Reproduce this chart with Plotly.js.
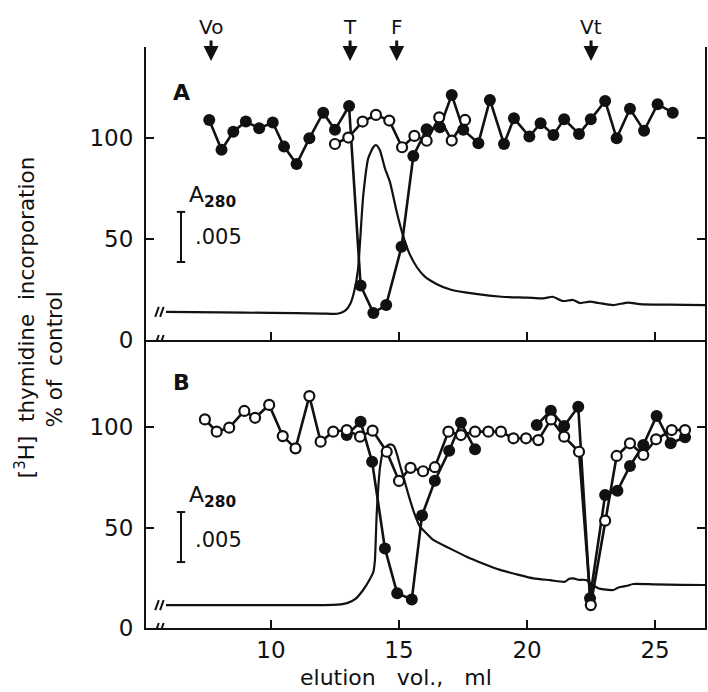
<!DOCTYPE html>
<html><head><meta charset="utf-8">
<script src="https://cdn.plot.ly/plotly-3.0.1.min.js"></script>
<style>body{margin:0;background:#fff}#g{width:708px;height:692px}</style>
</head><body><div id="g"></div>
<script>
// ---------- data ----------
// Panel A
const aFilledX = [7.59,8.07,8.53,9.02,9.54,10.07,10.51,11.0,11.5,12.04,12.5,13.05,13.5,14.0,14.5,15.1,15.56,16.08,16.6,17.06,17.51,18.1,18.55,19.1,19.49,20.09,20.53,21.03,21.45,22.03,22.49,23.05,23.5,24.02,24.57,25.1,25.69];
const aFilledY = [108.9,94.1,103.1,108.1,104.8,107.6,95.7,87.1,99.8,112.5,104.0,115.8,27,13.4,17.3,46.2,91.1,104.3,105.3,121.3,104,97.4,118.8,97,109.7,100.7,107.3,101.5,109.2,102,109.2,118.3,99.8,114.4,103.6,116.7,112.5];
const aOpenX = [12.5,13.02,13.58,14.1,14.62,15.12,15.6,16.08,16.57,17.06,17.58];
const aOpenY = [97,100.2,108.1,111.4,108.6,95.4,101,98.6,110.2,98.7,108.9];
const aA280X = [5.9,8,10,12,12.6,12.9,13.1,13.25,13.4,13.6,13.8,14.0,14.1,14.25,14.45,14.65,14.9,15.15,15.4,15.7,16.0,16.5,17.0,18.0,19.0,20.0,20.64,21.0,21.4,21.8,22.07,22.46,22.8,23.36,23.95,24.4,25.5,26.95];
const aA280Y = [13.9,13.7,13.4,13.1,13.0,14.5,18,24,35,71,90,95.5,96.5,94,85,78,64,52,43,36,31.5,27.5,25,22.8,21.4,21,20.6,21.4,19.3,19.8,18.3,19,18.3,17.3,18.5,17.8,17.5,17.3];
// Panel B
const bFilledX = [12.96,13.5,13.95,14.45,14.93,15.5,15.9,16.4,16.96,17.42,17.97,null,20.38,20.93,21.45,22.0,22.46,23.05,23.53,24.02,24.54,25.06,25.61,26.17];
const bFilledY = [96,102.6,82.7,39.6,17.3,14.2,56,73.3,88.2,102.1,88.9,null,101,108.1,100.5,110.1,14.8,66.2,68.3,80.6,91,105.5,91.9,94.9];
const bOpenX = [7.42,7.88,8.37,8.96,9.38,9.93,10.46,10.96,11.5,11.94,12.43,12.96,13.48,13.97,14.52,15.0,15.45,15.94,16.4,16.93,17.42,17.97,18.49,18.98,19.47,19.96,20.44,20.94,21.45,22.03,22.49,23.05,23.5,24.02,24.54,25.04,25.65,26.17];
const bOpenY = [103.8,97.7,99.7,108,104.6,111,95.5,89.4,115.4,92.7,97.7,98.5,95.2,98.2,87.7,73.2,79.7,78,80,97.7,96,97.7,97.7,97.7,94.4,94.4,93.5,103.8,95.2,87.7,11.4,53.4,85.6,91.9,86.1,93.9,98.5,98.5];
const bA280X = [5.9,8,10,12,12.6,13.0,13.3,13.6,13.85,14.0,14.06,14.13,14.26,14.39,14.52,14.65,14.8,14.91,15.04,15.17,15.4,15.6,15.82,16.0,16.34,17.0,17.64,18.3,18.95,19.6,20.25,20.9,21.48,21.65,21.8,22.0,22.3,22.55,22.78,23.0,23.37,23.55,23.7,23.9,24.15,25,26,26.95];
const bA280Y = [11.4,11.4,11.4,11.4,11.6,12.5,14.5,18.9,24,28,33.8,57,80,88.6,90.5,91.4,90.5,86.9,81,75.3,65,57,50.4,48,43.8,39.5,35.5,32,28.9,26.7,24.7,23.8,23,24.5,24.7,24,23.9,21.5,19.8,19.2,18.9,20,20.5,21,21.9,21.7,21.5,21.4];
// markers at top (elution volumes)
const markerNames = ["Vo","T","F","Vt"];
const markerX = [7.66,13.09,14.91,22.5];
// axis ticks
const xTicks = [10,15,20,25];
const yTicks = [0,50,100];
// A280 scale bar (0.005 A280 expressed in % units)
const scaleBarA = [38.6,63.4];
const scaleBarB = [32.8,57.7];
// axis-break positions (ml)
const breakX = [5.55,5.74];

// ---------- chart ----------
const ink = "#111";
const F = "DejaVu Sans";
function filled(x,y,xa,ya){return {x,y,xaxis:xa,yaxis:ya,type:"scatter",mode:"lines+markers",line:{color:ink,width:2.6},marker:{color:ink,size:12},connectgaps:false,showlegend:false,hoverinfo:"none"};}
function open(x,y,xa,ya){return {x,y,xaxis:xa,yaxis:ya,type:"scatter",mode:"lines+markers",line:{color:ink,width:2.6},marker:{color:"#fff",size:10,line:{color:ink,width:2.2}},showlegend:false,hoverinfo:"none"};}
function curve(x,y,xa,ya){return {x,y,xaxis:xa,yaxis:ya,type:"scatter",mode:"lines",line:{color:ink,width:2.2,shape:"spline",smoothing:0.6},showlegend:false,hoverinfo:"none"};}

const data = [
  curve(aA280X,aA280Y,"x2","y"),
  filled(aFilledX,aFilledY,"x2","y"),
  open(aOpenX,aOpenY,"x2","y"),
  curve(bA280X,bA280Y,"x","y2"),
  filled(bFilledX,bFilledY,"x","y2"),
  open(bOpenX,bOpenY,"x","y2")
];

const split = 0.4957;
const xr = [5.12,26.95];
const axisCommon = {showline:true,linecolor:ink,linewidth:2,ticks:"inside",ticklen:8,tickwidth:2,tickcolor:ink,showgrid:false,zeroline:false,tickfont:{family:F,size:23,color:ink}};

const shapes = [];
function brk(xa,ya,yv,ppu){
  breakX.forEach(bx=>{
    shapes.push({type:"line",xref:xa,yref:ya,x0:bx-0.07,x1:bx+0.07,y0:yv-5/ppu,y1:yv+5/ppu,line:{color:ink,width:2}});
  });
}
brk("x2","y",0,2.02); brk("x2","y",aA280Y[0],2.02);
brk("x","y2",0,2.01); brk("x","y2",bA280Y[0],2.01);
function bar(ya,r){
  const xc=0.0626, c=0.0075;
  shapes.push({type:"line",xref:"paper",yref:ya,x0:xc,x1:xc,y0:r[0],y1:r[1],line:{color:ink,width:2}});
  shapes.push({type:"line",xref:"paper",yref:ya,x0:xc-c,x1:xc+c,y0:r[0],y1:r[0],line:{color:ink,width:2}});
  shapes.push({type:"line",xref:"paper",yref:ya,x0:xc-c,x1:xc+c,y0:r[1],y1:r[1],line:{color:ink,width:2}});
}
bar("y",scaleBarA); bar("y2",scaleBarB);

const ann = [];
function txt(text,x,y,size,extra){
  ann.push(Object.assign({text,x,y,xref:"paper",yref:"paper",xanchor:"center",yanchor:"middle",showarrow:false,font:{family:F,size,color:ink}},extra||{}));
}
markerNames.forEach((n,i)=>{
  ann.push({text:n,x:markerX[i],xref:"x2",y:0.9759,yref:"paper",showarrow:true,ax:0,ay:-34,arrowhead:2,arrowsize:1,arrowwidth:3,arrowcolor:ink,standoff:0,font:{family:F,size:20,color:ink}});
});
txt("<b>A</b>",0.0644,0.9225,22);
txt("<b>B</b>",0.0644,0.4234,22);
txt("A<sub><b>280</b></sub>",0.0733,0.7435,22,{xanchor:"left"});
txt(".005",0.0841,0.673,21,{xanchor:"left"});
txt("A<sub><b>280</b></sub>",0.0733,0.227,22,{xanchor:"left"});
txt(".005",0.0841,0.1515,21,{xanchor:"left"});
txt("[<sup>3</sup>H]&nbsp;&nbsp;thymidine&nbsp;&nbsp;incorporation",-0.2165,0.535,21.5,{textangle:-90});
txt("%&nbsp;of&nbsp;&nbsp;control",-0.1628,0.462,21.5,{textangle:-90});
txt("elution&nbsp;&nbsp;&nbsp;vol.,&nbsp;&nbsp;&nbsp;ml",0.447,-0.086,22);

const layout = {
  width:708,height:692,paper_bgcolor:"#fff",plot_bgcolor:"#fff",
  margin:{l:146,r:3,t:47,b:64},
  showlegend:false,
  xaxis:Object.assign({},axisCommon,{anchor:"y2",range:xr,tickvals:xTicks,ticklabelstandoff:0}),
  xaxis2:Object.assign({},axisCommon,{anchor:"y",range:xr,tickvals:xTicks,showticklabels:false,matches:"x"}),
  yaxis:Object.assign({},axisCommon,{domain:[split,1],range:[0,145],tickvals:yTicks,mirror:"ticks",ticklabelstandoff:6}),
  yaxis2:Object.assign({},axisCommon,{domain:[0,split],range:[0,143.3],tickvals:yTicks,mirror:"ticks",ticklabelstandoff:6}),
  shapes:shapes,annotations:ann
};
Plotly.newPlot("g",data,layout,{staticPlot:true});
</script></body></html>
